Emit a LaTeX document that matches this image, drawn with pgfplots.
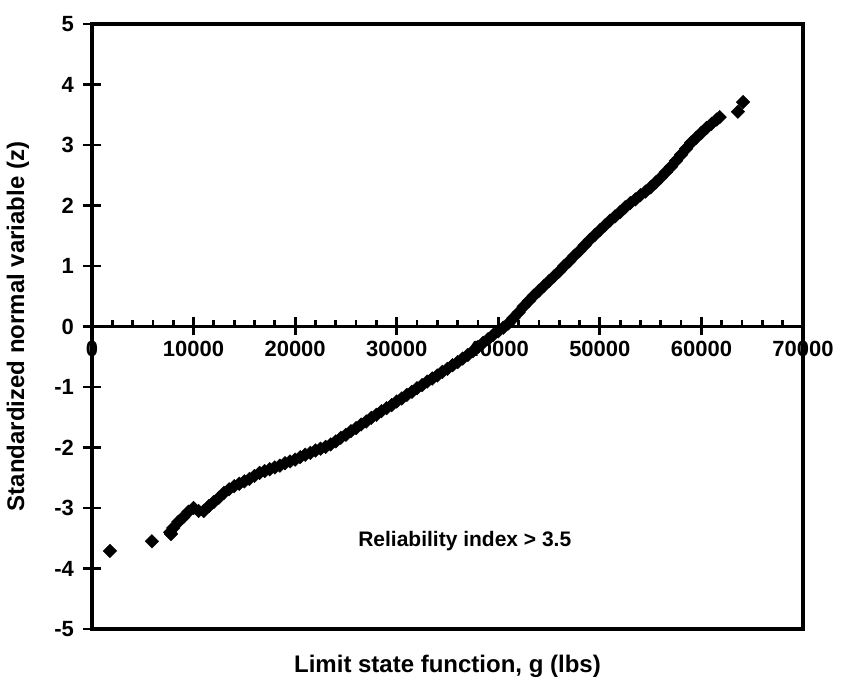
\documentclass[border=0pt]{standalone}
\usepackage{fontspec}
\setmainfont{Liberation Sans}
\usepackage{pgfplots}
\pgfplotsset{compat=1.18}
\usepackage{pgfplotstable}

\pgfplotstableread{
x z
1770 -3.71
5900 -3.55
7780 -3.43
7700 -3.40
8000 -3.33
8500 -3.23
9000 -3.15
9500 -3.06
10000 -3.00
10500 -3.05
11000 -3.05
11500 -2.97
12000 -2.90
12500 -2.83
13000 -2.75
13500 -2.69
14000 -2.64
14500 -2.60
15000 -2.56
15500 -2.52
16000 -2.47
16500 -2.42
17000 -2.39
17500 -2.36
18000 -2.33
18500 -2.30
19000 -2.26
19500 -2.23
20000 -2.20
20500 -2.16
21000 -2.12
21500 -2.09
22000 -2.05
22500 -2.02
23000 -1.99
23500 -1.95
24000 -1.90
24500 -1.84
25000 -1.79
25500 -1.73
26000 -1.68
26500 -1.62
27000 -1.57
27500 -1.51
28000 -1.46
28500 -1.40
29000 -1.35
29500 -1.30
30000 -1.24
30500 -1.19
31000 -1.13
31500 -1.08
32000 -1.02
32500 -0.97
33000 -0.91
33500 -0.86
34000 -0.81
34500 -0.75
35000 -0.70
35500 -0.64
36000 -0.59
36500 -0.53
37000 -0.47
37500 -0.41
38000 -0.34
38500 -0.27
39000 -0.21
39500 -0.14
40000 -0.08
40500 -0.02
41000 0.05
41500 0.14
42000 0.23
42500 0.33
43000 0.42
43500 0.51
44000 0.59
44500 0.67
45000 0.75
45500 0.83
46000 0.91
46500 1.00
47000 1.08
47500 1.17
48000 1.25
48500 1.34
49000 1.43
49500 1.51
50000 1.59
50500 1.67
51000 1.75
51500 1.82
52000 1.89
52500 1.97
53000 2.04
53500 2.10
54000 2.17
54500 2.23
55000 2.30
55500 2.38
56000 2.46
56500 2.55
57000 2.64
57500 2.74
58000 2.84
58500 2.94
59000 3.04
59500 3.12
60000 3.20
60500 3.28
61000 3.35
61500 3.42
61800 3.46
63600 3.55
64100 3.71
}\gdata

\pgfplotsset{
  common/.style={
    scale only axis, width=355.5pt, height=302.5pt,
    at={(0,0)}, anchor=south west,
    xmin=0, xmax=70000, ymin=-5, ymax=5,
    scaled x ticks=false, scaled y ticks=false,
    tick label style={font=\fontsize{11}{13}\selectfont\bfseries},
  }
}

\begin{document}
\begin{tikzpicture}
\useasboundingbox (-46pt,-27pt) rectangle (375.5pt,314.5pt);
% lower halves of major x ticks
\begin{axis}[common,
  axis x line*=middle, axis y line=none,
  axis line style={draw=none},
  xtick={10000,20000,...,60000}, xticklabels={},
  ytick=\empty,
  tick align=outside, major tick length=4.5pt,
  tick style={line width=1.4pt, black},
]
\end{axis}
% x axis line at z=0 with upper ticks and labels
\begin{axis}[common,
  axis x line*=middle, axis y line=none,
  axis line style={line width=1.5pt, black},
  xtick={0,10000,...,70000},
  xticklabels={0,10000,20000,30000,40000,50000,60000,70000},
  minor x tick num=4,
  ytick=\empty,
  tick align=inside, major tick length=4.5pt, minor tick length=3.2pt,
  tick style={line width=1.4pt, black},
  xticklabel style={yshift=-4pt},
]
\end{axis}
% main frame, y ticks, data
\begin{axis}[common,
  axis line style={line width=1.6pt, black},
  xtick=\empty,
  ytick={-5,-4,...,5},
  yticklabels={-5,-4,-3,-2,-1,0,1,2,3,4,5},
  ytick pos=left,
  tick align=center, major tick length=9pt,
  tick style={line width=1.4pt, black},
  yticklabel style={xshift=-1pt},
  xlabel={Limit state function, g (lbs)},
  ylabel={Standardized normal variable (z)},
  every axis x label/.style={at={(axis description cs:0.5,0)}, yshift=-18.5pt, anchor=center, font=\fontsize{12}{14}\selectfont\bfseries},
  every axis y label/.style={at={(axis description cs:0,0.5)}, xshift=-37pt, rotate=90, anchor=center, font=\fontsize{12}{14}\selectfont\bfseries},
  clip=false,
]
\addplot[only marks, mark=square*, mark size=2.4pt,
  mark options={rotate=45, fill=black, draw=black, line width=0.2pt}]
  table[x=x, y=z] {\gdata};
\node[font=\fontsize{10.5}{12}\selectfont\bfseries] at (axis cs:36700,-3.55) {Reliability index > 3.5};
\end{axis}
\end{tikzpicture}
\end{document}
